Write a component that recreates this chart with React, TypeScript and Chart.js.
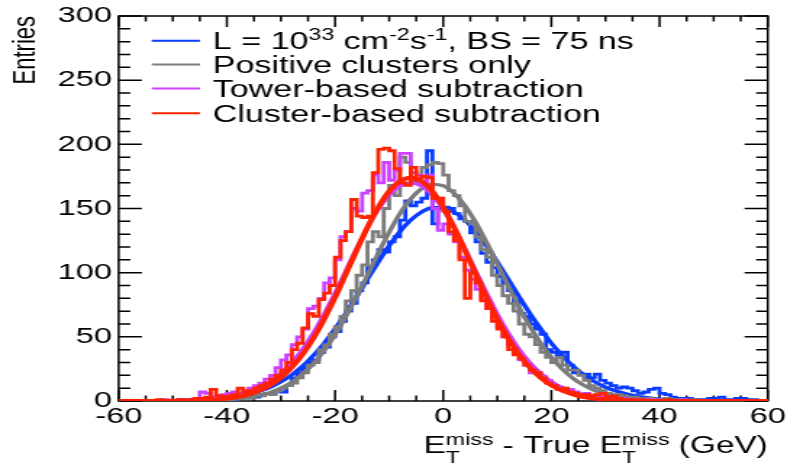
import React, { useEffect, useRef } from "react";
import { Chart, registerables } from "chart.js";

Chart.register(...registerables);

// Canvas is drawn narrower and stretched horizontally (like the reference)
const DISPLAY_W = 787;
const H = 466;
const CANVAS_W = 543;

const FONT = '"Liberation Sans", Arial, Helvetica, sans-serif';

const X_MIN = -60;
const X_MAX = 60;
const Y_MIN = 0;
const Y_MAX = 300;
const BIN_START = -60;
const BIN_WIDTH = 1;
const FIT_START = -60;
const FIT_STEP = 2;

const BLUE = "#0a3cff";
const GRAY = "#7c7c7c";
const MAGENTA = "#cc40ff";
const RED = "#ff2200";

const blueLabel = "L = 10^{33} cm^{-2}s^{-1}, BS = 75 ns";
const grayLabel = "Positive clusters only";
const magentaLabel = "Tower-based subtraction";
const redLabel = "Cluster-based subtraction";

const xTitle = "E_{T}^{miss} - True E_{T}^{miss} (GeV)";
const yTitle = "Entries";

// bin contents, bins of 1 GeV from -60 to 60
const blueCounts = [
  0, 0, 0, 0, 0, 0, 0, 0, 0, 0, 0, 0,
  1, 0, 0, 1, 0, 1, 1, 0,
  1, 2, 1, 2, 3, 4, 3, 5, 6, 6,
  8, 7, 12, 18, 22, 26, 30, 32, 38, 42,
  50, 54, 62, 70, 76, 86, 92, 104, 110, 118,
  116, 124, 128, 141, 156, 152, 155, 158, 195, 138,
  150, 151, 150, 146, 142, 140, 131, 124, 115, 108,
  104, 97, 92, 86, 78, 68, 66, 60, 56, 52,
  40, 38, 35, 38, 28, 22, 21, 21, 18, 21,
  16, 14, 12, 10, 11, 10, 8, 6, 7, 9,
  10, 6, 5, 3, 2, 2, 2, 1, 1, 1,
  2, 2, 3, 1, 1, 2, 2, 1, 1, 0,
];

const grayCounts = [
  0, 0, 0, 0, 0, 0, 0, 0, 0, 0, 0, 0,
  0, 0, 0, 1, 0, 0, 1, 0,
  1, 1, 2, 2, 3, 2, 5, 4, 6, 5,
  8, 10, 12, 14, 18, 22, 28, 30, 40, 44,
  52, 58, 66, 78, 86, 98, 106, 124, 132, 128,
  150, 168, 160, 190, 186, 172, 170, 182, 184, 186,
  185, 176, 164, 160, 152, 140, 138, 128, 118, 112,
  98, 90, 82, 76, 70, 60, 52, 50, 44, 38,
  34, 30, 34, 28, 24, 24, 20, 16, 12, 10,
  8, 6, 5, 5, 4, 3, 3, 2, 2, 2,
  1, 1, 2, 1, 1, 1, 0, 1, 0, 0,
  0, 0, 0, 0, 0, 0, 0, 0, 0, 0,
];

const magentaCounts = [
  0, 0, 0, 0, 0, 0, 0, 0, 0, 1, 0, 0,
  0, 1, 1, 2, 7, 6, 3, 4,
  5, 6, 7, 6, 8, 10, 12, 14, 17, 20,
  26, 32, 36, 44, 50, 56, 72, 74, 80, 92,
  96, 110, 128, 132, 150, 148, 162, 164, 176, 170,
  186, 172, 180, 193, 193, 178, 176, 170, 176, 150,
  133, 138, 130, 124, 112, 102, 95, 87, 80, 72,
  66, 58, 50, 44, 38, 32, 28, 22, 22, 19,
  16, 12, 11, 8, 9, 7, 5, 6, 4, 4,
  3, 3, 2, 2, 2, 1, 1, 1, 0, 1,
  1, 0, 0, 0, 0, 1, 0, 0, 0, 0,
  0, 0, 0, 0, 0, 0, 0, 0, 0, 0,
];

const redCounts = [
  0, 0, 0, 0, 0, 0, 0, 0, 1, 0, 0, 0,
  1, 0, 1, 2, 2, 3, 9, 4,
  3, 4, 5, 10, 7, 8, 10, 12, 14, 17,
  20, 24, 30, 40, 45, 57, 68, 66, 79, 84,
  90, 112, 125, 132, 157, 144, 143, 144, 178, 196,
  197, 195, 181, 170, 168, 182, 172, 175, 174, 158,
  158, 148, 132, 125, 110, 80, 100, 92, 78, 72,
  62, 56, 50, 40, 36, 33, 28, 24, 22, 18,
  14, 12, 9, 10, 7, 6, 5, 5, 4, 5,
  6, 3, 4, 2, 1, 1, 0, 1, 0, 0,
  0, 0, 1, 0, 0, 0, 0, 0, 0, 0,
  0, 0, 0, 0, 0, 0, 0, 0, 0, 0,
];

// Gaussian fit curves, read at x = -60, -58, ..., 60
const blueFit = [
  0, 0, 0, 0.1, 0.1, 0.2, 0.4, 0.6, 0.9, 1.5, 2.3, 3.5, 5.3, 7.7, 10.7, 15.0,
  20.4, 27.2, 35.6, 45.0, 56.2, 68.4, 81.4, 95.0, 108.3, 120.9, 132.0, 141.0,
  147.3, 150.6, 150.6, 147.3, 141.0, 132.0, 120.9, 108.3, 95.0, 81.4, 68.4,
  56.2, 45.0, 35.6, 27.2, 20.4, 15.0, 10.7, 7.7, 5.3, 3.5, 2.3, 1.5, 0.9, 0.6,
  0.4, 0.2, 0.1, 0.1, 0, 0, 0, 0,
];

const grayFit = [
  0, 0, 0, 0, 0, 0.1, 0.1, 0.2, 0.3, 0.6, 1.0, 1.7, 2.7, 4.3, 6.7, 10.1, 14.7,
  21.0, 29.1, 39.3, 51.5, 65.7, 81.4, 98.1, 115.3, 131.5, 146.0, 157.5, 165.4,
  168.8, 167.7, 161.9, 152.1, 139.1, 123.6, 106.8, 89.8, 73.4, 58.3, 45.1, 34.0,
  24.9, 17.7, 12.3, 8.2, 5.4, 3.4, 2.1, 1.3, 0.7, 0.4, 0.2, 0.1, 0.1, 0, 0, 0,
  0, 0, 0, 0,
];

const magentaFit = [
  0, 0, 0, 0, 0, 0.2, 0.3, 0.5, 1.0, 1.6, 2.7, 4.3, 6.7, 10.2, 15.0, 21.5, 29.9,
  40.4, 53.1, 67.8, 84.1, 101.3, 118.8, 135.2, 149.4, 160.5, 167.6, 170.0, 167.6,
  160.5, 149.4, 135.2, 118.8, 101.3, 84.1, 67.8, 53.1, 40.4, 29.9, 21.5, 15.0,
  10.2, 6.7, 4.3, 2.7, 1.6, 1.0, 0.5, 0.3, 0.2, 0.1, 0, 0, 0, 0, 0, 0, 0, 0, 0,
  0,
];

const redFit = [
  0, 0, 0, 0, 0, 0.1, 0.2, 0.3, 0.6, 1.1, 1.9, 3.1, 5.1, 8.1, 12.3, 18.2, 26.1,
  36.4, 48.9, 63.9, 80.7, 99.0, 117.6, 135.4, 151.0, 163.4, 171.2, 174.0, 171.2,
  163.4, 151.0, 135.4, 117.6, 99.0, 80.7, 63.9, 48.9, 36.4, 26.1, 18.2, 12.3,
  8.1, 5.1, 3.1, 1.9, 1.1, 0.6, 0.3, 0.2, 0.1, 0, 0, 0, 0, 0, 0, 0, 0, 0, 0, 0,
];

type Pt = { x: number; y: number };

function histPoints(counts: number[]): Pt[] {
  const pts: Pt[] = counts.map((v, i) => ({ x: BIN_START + i * BIN_WIDTH, y: v }));
  pts.push({ x: BIN_START + counts.length * BIN_WIDTH, y: counts[counts.length - 1] });
  return pts;
}

function fitPoints(vals: number[]): Pt[] {
  return vals.map((v, i) => ({ x: FIT_START + i * FIT_STEP, y: v }));
}

// rich text: kind 0 normal, 1 superscript, 2 subscript, 3 stacked sub+sup
type Seg = { t: string; k: number; sub?: string };

function readGroup(s: string, i: number): [string, number] {
  if (s[i] === "{") {
    const j = s.indexOf("}", i);
    return [s.slice(i + 1, j), j + 1];
  }
  return [s[i], i + 1];
}

function parseRich(s: string): Seg[] {
  const segs: Seg[] = [];
  let i = 0;
  let buf = "";
  const flush = () => {
    if (buf) segs.push({ t: buf, k: 0 });
    buf = "";
  };
  while (i < s.length) {
    const c = s[i];
    if (c === "_") {
      flush();
      const [sub, ni] = readGroup(s, i + 1);
      i = ni;
      if (s[i] === "^") {
        const [sup, nj] = readGroup(s, i + 1);
        i = nj;
        segs.push({ t: sup, k: 3, sub });
      } else {
        segs.push({ t: sub, k: 2 });
      }
    } else if (c === "^") {
      flush();
      const [sup, ni] = readGroup(s, i + 1);
      i = ni;
      segs.push({ t: sup, k: 1 });
    } else {
      buf += c;
      i++;
    }
  }
  flush();
  return segs;
}

function richWidth(ctx: CanvasRenderingContext2D, segs: Seg[], big: number, small: number) {
  let w = 0;
  for (const s of segs) {
    if (s.k === 0) {
      ctx.font = `${big}px ${FONT}`;
      w += ctx.measureText(s.t).width;
    } else if (s.k === 3) {
      ctx.font = `${small}px ${FONT}`;
      w += Math.max(ctx.measureText(s.t).width, ctx.measureText(s.sub || "").width);
    } else {
      ctx.font = `${small}px ${FONT}`;
      w += ctx.measureText(s.t).width;
    }
  }
  return w;
}

function drawRich(
  ctx: CanvasRenderingContext2D,
  segs: Seg[],
  x: number,
  base: number,
  big: number,
  small: number,
  supRaise: number,
  subDrop: number
) {
  let cx = x;
  ctx.textAlign = "left";
  ctx.textBaseline = "alphabetic";
  for (const s of segs) {
    if (s.k === 0) {
      ctx.font = `${big}px ${FONT}`;
      ctx.fillText(s.t, cx, base);
      cx += ctx.measureText(s.t).width;
    } else if (s.k === 1) {
      ctx.font = `${small}px ${FONT}`;
      ctx.fillText(s.t, cx, base - supRaise);
      cx += ctx.measureText(s.t).width;
    } else if (s.k === 2) {
      ctx.font = `${small}px ${FONT}`;
      ctx.fillText(s.t, cx, base + subDrop);
      cx += ctx.measureText(s.t).width;
    } else {
      ctx.font = `${small}px ${FONT}`;
      ctx.fillText(s.t, cx, base - supRaise);
      ctx.fillText(s.sub || "", cx, base + subDrop);
      cx += Math.max(ctx.measureText(s.t).width, ctx.measureText(s.sub || "").width);
    }
  }
}

const legendEntries = [
  { label: blueLabel, color: BLUE },
  { label: grayLabel, color: GRAY },
  { label: magentaLabel, color: MAGENTA },
  { label: redLabel, color: RED },
];

const rootFramePlugin = {
  id: "rootFrame",
  beforeDatasetsDraw(chart: any) {
    const { ctx, chartArea: a, scales } = chart;
    const xs = scales.x;
    const ys = scales.y;
    ctx.save();
    ctx.strokeStyle = "#000";
    ctx.lineWidth = 1.5;
    ctx.strokeRect(a.left, a.top, a.right - a.left, a.bottom - a.top);
    ctx.beginPath();
    for (let v = X_MIN; v <= X_MAX; v += 5) {
      const major = v % 20 === 0;
      const len = major ? 11 : 5.5;
      const px = xs.getPixelForValue(v);
      ctx.moveTo(px, a.bottom);
      ctx.lineTo(px, a.bottom - len);
      ctx.moveTo(px, a.top);
      ctx.lineTo(px, a.top + len);
    }
    for (let v = Y_MIN; v <= Y_MAX; v += 10) {
      const major = v % 50 === 0;
      const len = major ? 16 : 8;
      const py = ys.getPixelForValue(v);
      ctx.moveTo(a.left, py);
      ctx.lineTo(a.left + len, py);
      ctx.moveTo(a.right, py);
      ctx.lineTo(a.right - len, py);
    }
    ctx.stroke();
    ctx.restore();
  },
  afterDraw(chart: any) {
    const { ctx, chartArea: a } = chart;
    ctx.save();
    ctx.fillStyle = "#000";
    // legend
    const rows = [40.7, 64.4, 88.4, 113.2];
    legendEntries.forEach((e, i) => {
      const y = rows[i];
      ctx.strokeStyle = e.color;
      ctx.lineWidth = 2;
      ctx.beginPath();
      ctx.moveTo(104.7, y);
      ctx.lineTo(138, y);
      ctx.stroke();
      ctx.fillStyle = "#000";
      drawRich(ctx, parseRich(e.label), 146.8, y + 8.6, 23.5, 16, 9.5, 6);
    });
    // x-axis title, right aligned at the frame's right edge
    const segs = parseRich(xTitle);
    const w = richWidth(ctx, segs, 23, 16);
    drawRich(ctx, segs, a.right - w, 453, 23, 16, 8, 10);
    ctx.restore();
  },
};

export default function App() {
  const ref = useRef<HTMLCanvasElement | null>(null);

  useEffect(() => {
    document.body.style.margin = "0";
    const canvas = ref.current;
    if (!canvas) return;
    const line = (label: string, data: Pt[], color: string, width: number, order: number, stepped: boolean) => ({
      label,
      data,
      borderColor: color,
      backgroundColor: color,
      borderWidth: width,
      pointRadius: 0,
      fill: false,
      order,
      stepped: stepped ? "after" : false,
      cubicInterpolationMode: stepped ? "default" : "monotone",
      tension: stepped ? 0 : 0.4,
    });
    const chart = new Chart(canvas, {
      type: "line",
      data: {
        datasets: [
          line(redLabel + " fit", fitPoints(redFit), RED, 4, 0, false),
          line(redLabel, histPoints(redCounts), RED, 2.8, 1, true),
          line(magentaLabel + " fit", fitPoints(magentaFit), MAGENTA, 3.4, 2, false),
          line(magentaLabel, histPoints(magentaCounts), MAGENTA, 2.8, 3, true),
          line(grayLabel + " fit", fitPoints(grayFit), GRAY, 3.4, 4, false),
          line(grayLabel, histPoints(grayCounts), GRAY, 2.8, 5, true),
          line(blueLabel + " fit", fitPoints(blueFit), BLUE, 3.4, 6, false),
          line(blueLabel, histPoints(blueCounts), BLUE, 2.8, 7, true),
        ] as any,
      },
      options: {
        responsive: false,
        animation: false,
        events: [],
        layout: { padding: { top: 16, right: 13.3, left: 0, bottom: 0 } },
        plugins: {
          legend: { display: false },
          tooltip: { enabled: false },
        },
        scales: {
          x: {
            type: "linear",
            min: X_MIN,
            max: X_MAX,
            position: "bottom",
            ticks: {
              stepSize: 20,
              autoSkip: false,
              maxRotation: 0,
              padding: 2.5,
              color: "#000",
              font: { family: FONT, size: 22.5 },
            },
            grid: { display: false, drawTicks: false, tickLength: 0 },
            border: { display: false },
            afterFit: (s: any) => {
              s.height = 65;
              s.paddingLeft = 0;
              s.paddingRight = 0;
            },
          },
          y: {
            type: "linear",
            min: Y_MIN,
            max: Y_MAX,
            ticks: {
              stepSize: 50,
              padding: 4.6,
              color: "#000",
              font: { family: FONT, size: 22.5 },
            },
            grid: { display: false, drawTicks: false, tickLength: 0 },
            border: { display: false },
            title: {
              display: true,
              text: yTitle,
              align: "end",
              color: "#000",
              font: { family: FONT, size: 22 },
              padding: { top: 4.3, bottom: 0 },
            },
            afterFit: (s: any) => {
              s.width = 81.9;
              s.paddingTop = 0;
              s.paddingBottom = 0;
            },
          },
        },
      } as any,
      plugins: [rootFramePlugin],
    });
    return () => chart.destroy();
  }, []);

  return (
    <div style={{ width: DISPLAY_W, height: H, background: "#fff" }}>
      <canvas
        ref={ref}
        width={CANVAS_W}
        height={H}
        style={{ width: `${DISPLAY_W}px`, height: `${H}px`, display: "block" }}
      />
    </div>
  );
}
